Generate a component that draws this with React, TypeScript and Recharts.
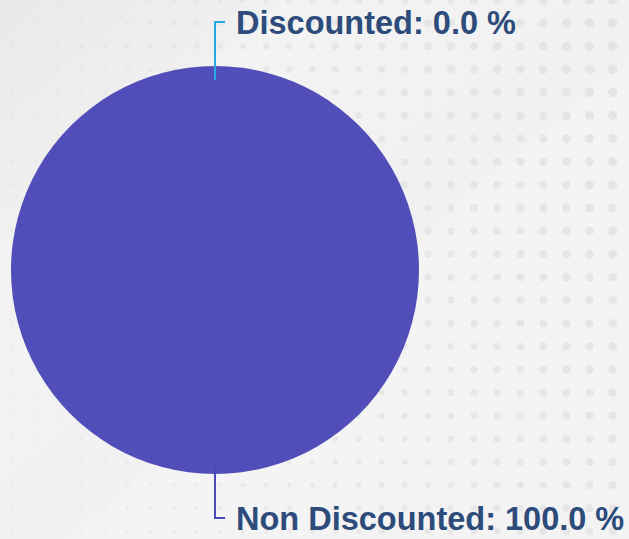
import { PieChart, Pie, Cell } from 'recharts';

const categories = ['Discounted', 'Non Discounted'];
const shares = [0, 100];
const lineColors = ['#29a9e1', '#4d49b7'];

const data = categories.map((name, i) => ({ name, value: shares[i] }));

const W = 629;
const H = 539;
const RADIAN = Math.PI / 180;

function DotBackground() {
  const dots = [];
  for (let row = 0; row < 24; row++) {
    for (let col = 0; col < 28; col++) {
      const x = 12 + col * 23.1;
      const y = 0 + row * 23.1;
      const t = Math.min(1, Math.max(0, (x - y * 0.35 + 100) / 700));
      dots.push(<circle key={`${row}-${col}`} cx={x} cy={y} r={1.4 + 3.4 * t} fill="#e4e4e4" opacity={0.55 + 0.45 * t} />);
    }
  }
  return (
    <svg width={W} height={H} style={{ position: 'absolute', left: 0, top: 0 }}>
      <defs>
        <linearGradient id="bg" x1="0" y1="0" x2="1" y2="1">
          <stop offset="0%" stopColor="#e9e9e9" />
          <stop offset="22%" stopColor="#f0f0f0" />
          <stop offset="23%" stopColor="#f3f3f3" />
          <stop offset="55%" stopColor="#f1f1f1" />
          <stop offset="56%" stopColor="#f4f4f4" />
          <stop offset="100%" stopColor="#f3f3f3" />
        </linearGradient>
      </defs>
      <rect width={W} height={H} fill="url(#bg)" />
      {dots}
    </svg>
  );
}

function renderLabel(props: any) {
  const { cx, cy, midAngle, outerRadius, name, percent, index } = props;
  const cos = Math.cos(-midAngle * RADIAN);
  const sin = Math.sin(-midAngle * RADIAN);
  const x1 = cx + (outerRadius - 14) * cos;
  const y1 = cy + (outerRadius - 14) * sin;
  const x2 = cx + (outerRadius + 44) * cos;
  const y2 = cy + (outerRadius + 44) * sin;
  return (
    <g>
      <polyline
        points={`${x1},${y1} ${x2},${y2} ${x2 + 10},${y2}`}
        fill="none"
        stroke={lineColors[index]}
        strokeWidth={2}
      />
      <text
        x={x2 + 21}
        y={y2 + 12}
        fill="#2d4b7b"
        fontFamily="'Liberation Sans', Arial, sans-serif"
        fontWeight="bold"
        fontSize={32.5}
        textAnchor="start"
      >
        {`${name}: ${(percent * 100).toFixed(1)} %`}
      </text>
    </g>
  );
}

export default function App() {
  return (
    <div style={{ position: 'absolute', left: 0, top: 0, width: W, height: H, overflow: 'hidden' }}>
      <DotBackground />
      <div style={{ position: 'absolute', left: 0, top: 0 }}>
        <PieChart width={W} height={H} margin={{ top: 0, right: 0, bottom: 0, left: 0 }}>
          <Pie
            data={data}
            dataKey="value"
            nameKey="name"
            cx={215}
            cy={270}
            outerRadius={204}
            startAngle={90}
            endAngle={-270}
            stroke="none"
            labelLine={false}
            label={renderLabel}
            isAnimationActive={false}
          >
            {data.map((d, i) => (
              <Cell key={d.name} fill="#4b47b6" fillOpacity={0.96} />
            ))}
          </Pie>
        </PieChart>
      </div>
    </div>
  );
}
